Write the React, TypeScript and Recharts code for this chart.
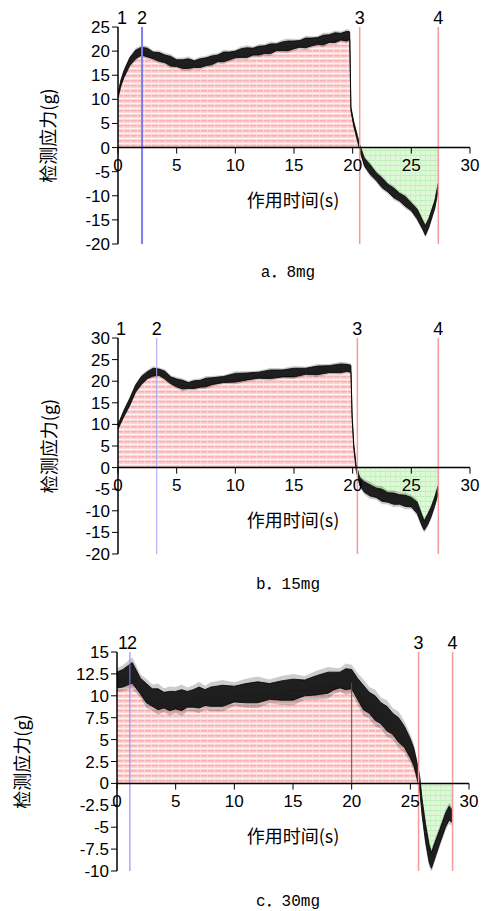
import { Area, ComposedChart, ReferenceLine, XAxis, YAxis } from "recharts";

const FONT = '"Liberation Sans", Arial, sans-serif';
const CJK = '"Noto Sans CJK SC", sans-serif';
const CAPTION_FONT = '"Liberation Mono", "Noto Sans CJK SC", monospace';

const xTicks = [0, 5, 10, 15, 20, 25, 30];
const yTitle = "检测应力(g)";
const xTitle = "作用时间(s)";

// a. 8mg
const aTime = [
  0, 0.25, 0.5, 1, 1.5, 2, 2.5, 3, 3.5, 4, 4.5, 5, 5.5, 6, 6.5, 7, 7.5, 8, 8.5, 9,
  9.5, 10, 10.5, 11, 11.5, 12, 12.5, 13, 13.5, 14, 14.5, 15, 15.5, 16, 16.5, 17, 17.5, 18, 18.5, 19,
  19.5, 19.75, 19.85, 20.1, 20.4, 20.6, 21, 21.5, 22, 22.5, 23, 23.5, 24, 24.5, 25, 25.5, 26, 26.2, 26.5, 27,
  27.3,
];
const aForce = [
  10.8, 13.4, 15.2, 17.8, 19.3, 20.0, 19.7, 19.1, 18.8, 18.4, 17.9, 17.5, 17.3, 17.4, 17.3, 17.5, 17.8, 18.1, 18.5, 18.8,
  19.0, 19.3, 19.6, 19.7, 19.9, 20.1, 20.3, 20.5, 20.8, 21.0, 21.1, 21.3, 21.5, 21.7, 21.9, 22.1, 22.3, 22.6, 22.8, 23.0,
  23.1, 23.2, 8.0, 4.8, 2.0, 0, -3.0, -4.6, -6.0, -7.3, -8.4, -9.4, -10.3, -11.2, -12.3, -13.8, -16.2, -17.2, -15.6, -11.8,
  -8.0,
];
const aNoise = [
  0.5, 0.6, 0.7, 0.8, 0.9, 0.8, 0.9, 0.7, 0.9, 0.8, 1.0, 0.7, 0.9, 1.0, 0.7, 0.9, 0.8, 0.9, 0.7, 1.0,
  0.8, 0.7, 0.9, 1.0, 0.7, 0.9, 0.8, 1.0, 0.7, 0.9, 1.0, 0.8, 0.7, 1.0, 0.8, 0.7, 1.0, 0.8, 1.0, 0.7,
  1.0, 0.8, 0.4, 0.5, 0.5, 0.6, 0.8, 1.0, 0.8, 1.0, 0.8, 1.0, 0.8, 1.0, 0.8, 1.0, 0.9, 1.0, 0.9, 0.8,
  0.7,
];
const aYTicks = [25, 20, 15, 10, 5, 0, -5, -10, -15, -20];
const aMarks = [0, 2.05, 20.6, 27.3];

// b. 15mg
const bTime = [
  0, 0.25, 0.5, 1, 1.5, 2, 2.5, 3, 3.5, 4, 4.5, 5, 5.5, 6, 6.5, 7, 7.5, 8, 9, 10,
  11, 12, 13, 14, 15, 16, 17, 18, 19, 19.5, 19.85, 19.95, 20.1, 20.3, 20.6, 21, 21.5, 22, 22.5, 23,
  23.5, 24, 24.5, 25, 25.5, 25.9, 26.1, 26.4, 26.7, 27, 27.3,
];
const bForce = [
  9.4, 11.0, 12.5, 15.2, 18.3, 20.2, 21.4, 22.1, 22.1, 21.4, 20.2, 19.6, 19.2, 19.0, 19.2, 19.4, 19.7, 20.0, 20.4, 20.8,
  21.1, 21.4, 21.6, 21.8, 22.0, 22.3, 22.5, 22.8, 23.0, 23.1, 22.9, 12.0, 4.8, 0, -3.2, -4.5, -5.3, -5.8, -6.4, -6.9,
  -7.2, -7.4, -7.7, -8.0, -9.3, -12.2, -13.4, -12.0, -10.2, -7.8, -5.0,
];
const bNoise = [
  0.5, 0.6, 0.7, 0.8, 0.8, 0.9, 0.8, 0.9, 0.7, 0.9, 0.8, 0.9, 1.0, 0.7, 0.9, 0.8, 1.0, 0.8, 0.7, 1.0,
  0.8, 0.7, 1.0, 0.8, 1.0, 0.7, 1.0, 0.8, 1.0, 0.8, 0.8, 0.4, 0.5, 0.6, 0.9, 1.2, 1.3, 1.1, 1.4, 1.1,
  1.3, 1.1, 1.3, 1.1, 1.3, 1.2, 1.1, 1.2, 1.1, 1.0, 0.9,
];
const bYTicks = [30, 25, 20, 15, 10, 5, 0, -5, -10, -15, -20];
const bMarks = [0, 3.3, 20.4, 27.3];

// c. 30mg
const cTime = [
  0, 0.5, 1, 1.3, 1.5, 2, 2.5, 3, 3.5, 4, 4.5, 5, 5.5, 6, 6.5, 7, 7.5, 8, 9, 10,
  11, 12, 13, 14, 15, 16, 17, 18, 18.5, 19, 19.5, 20, 20.5, 21, 21.5, 22, 22.5, 23, 23.5, 24,
  24.5, 25, 25.3, 25.5, 25.8, 26, 26.3, 26.6, 26.8, 27, 27.5, 28, 28.3, 28.6,
];
const cForce = [
  11.8, 12.0, 12.4, 12.6, 12.2, 11.1, 10.3, 9.8, 9.6, 9.5, 9.4, 9.5, 9.5, 9.6, 9.7, 9.8, 9.8, 9.9, 10.0, 10.2,
  10.3, 10.4, 10.5, 10.6, 10.7, 10.9, 11.2, 11.5, 11.7, 11.8, 11.9, 11.9, 10.8, 9.8, 9.2, 8.6, 8.0, 7.4, 6.8, 6.1,
  5.3, 4.0, 3.0, 1.9, 0, -2.7, -5.7, -8.0, -8.8, -8.0, -6.1, -4.2, -3.4, -3.8,
];
const cNoise = [
  0.9, 1.0, 1.1, 1.2, 1.1, 0.9, 1.1, 1.0, 1.2, 0.9, 1.1, 1.0, 1.2, 0.9, 1.0, 1.2, 0.9, 1.1, 1.2, 0.9,
  1.1, 1.2, 0.9, 1.1, 1.2, 0.9, 1.1, 1.2, 1.0, 0.9, 1.2, 1.1, 1.2, 1.4, 1.2, 1.4, 1.2, 1.4, 1.2, 1.4,
  1.2, 1.1, 1.0, 0.9, 0.8, 0.9, 1.0, 1.0, 0.9, 0.9, 0.8, 0.8, 0.8, 0.7,
];
const cYTicks = [15, 12.5, 10, 7.5, 5, 2.5, 0, -2.5, -5, -7.5, -10];
const cMarks = [0, 1.1, 25.7, 28.6];

const markNames = ["1", "2", "3", "4"];

type PanelCfg = {
  id: string;
  time: number[];
  force: number[];
  noise: number[];
  yTicks: number[];
  marks: number[];
  caption: string;
  top: number;
  axisWidth: number;
  margin: { top: number; right: number; bottom: number; left: number };
  tickLen: number;
  yTitleX: number;
  xTitleY: number;
  captionY: number;
  markDx: number[];
  blue: string;
  blueWidth: number;
  edge?: { x: number; y: number };
};

const panels: PanelCfg[] = [
  {
    id: "a",
    time: aTime,
    force: aForce,
    noise: aNoise,
    yTicks: aYTicks,
    marks: aMarks,
    caption: "a．8mg",
    top: 0,
    axisWidth: 118,
    margin: { top: 27, right: 12, bottom: 18, left: 0 },
    tickLen: 1.25,
    yTitleX: 49,
    xTitleY: 199,
    captionY: 270,
    markDx: [4, 0, 0, 0],
    blue: "#7c7cf0",
    blueWidth: 2,
  },
  {
    id: "b",
    time: bTime,
    force: bForce,
    noise: bNoise,
    yTicks: bYTicks,
    marks: bMarks,
    caption: "b．15mg",
    top: 311,
    axisWidth: 118,
    margin: { top: 27, right: 12, bottom: 19, left: 0 },
    tickLen: 1.4,
    yTitleX: 50,
    xTitleY: 208,
    captionY: 271,
    markDx: [3, 0, 0, 0],
    blue: "#a4a4f4",
    blueWidth: 1,
  },
  {
    id: "c",
    time: cTime,
    force: cForce,
    noise: cNoise,
    yTicks: cYTicks,
    marks: cMarks,
    caption: "c．30mg",
    top: 625,
    axisWidth: 117,
    margin: { top: 27, right: 13, bottom: 16, left: 0 },
    tickLen: 0.7,
    yTitleX: 23,
    xTitleY: 210,
    captionY: 274,
    markDx: [6, 2, 0, 0],
    blue: "#8080f6",
    blueWidth: 1,
    edge: { x: 20, y: 11.5 },
  },
];

function Panel({ p }: { p: PanelCfg }) {
  const rows = p.time.map((t, i) => {
    const v = p.force[i];
    const n = p.noise[i];
    return {
      t,
      pos: Math.max(v, 0),
      neg: Math.min(v, 0),
      band: [v - n, v + n],
      halo: [v - n * 1.5, v + n * 1.5],
    };
  });
  const yDomain = [p.yTicks[p.yTicks.length - 1], p.yTicks[0]];

  return (
    <div style={{ position: "absolute", left: 0, top: p.top, width: 482, height: 290 }}>
      <ComposedChart width={482} height={262} data={rows} margin={p.margin}>
        <defs>
          <pattern id={`pink-${p.id}`} width="7" height="5" patternUnits="userSpaceOnUse">
            <rect width="7" height="5" fill="#fcd6d6" />
            <rect y="0" width="7" height="1.5" fill="#f8b0b0" />
            <rect y="3" width="7" height="1" fill="#fff4f4" />
            <rect x="4" width="1" height="5" fill="#fde8e8" opacity="0.6" />
          </pattern>
          <pattern id={`green-${p.id}`} width="5" height="5" patternUnits="userSpaceOnUse">
            <rect width="5" height="5" fill="#dff9d8" />
            <rect y="0" width="5" height="1" fill="#bdeeb5" />
            <rect x="0" width="1" height="5" fill="#cbf2c4" />
          </pattern>
        </defs>
        <XAxis type="number" dataKey="t" domain={[0, 30]} hide allowDataOverflow />
        <YAxis
          type="number"
          domain={yDomain}
          ticks={p.yTicks}
          interval={0}
          width={p.axisWidth}
          allowDataOverflow
          tickSize={6}
          tickMargin={2}
          tick={{ fill: "#000", fontSize: 17, fontFamily: FONT }}
          tickLine={{ stroke: "#000" }}
          axisLine={{ stroke: "#000", strokeWidth: 1.5 }}
          label={{
            value: yTitle,
            angle: -90,
            position: "insideLeft",
            offset: p.yTitleX,
            style: { textAnchor: "middle", fontSize: 18, fontFamily: CJK, fill: "#000" },
          }}
        />
        <Area
          type="linear"
          dataKey="pos"
          baseValue={0}
          stroke="none"
          fill={`url(#pink-${p.id})`}
          fillOpacity={1}
          isAnimationActive={false}
        />
        <Area
          type="linear"
          dataKey="neg"
          baseValue={0}
          stroke="none"
          fill={`url(#green-${p.id})`}
          fillOpacity={1}
          isAnimationActive={false}
        />
        {p.edge && (
          <ReferenceLine
            segment={[
              { x: p.edge.x, y: 0 },
              { x: p.edge.x, y: p.edge.y },
            ]}
            stroke="#555"
            strokeWidth={1}
          />
        )}
        {p.marks.map((m, i) => (
          <ReferenceLine
            key={`m${i}`}
            x={m}
            stroke={i === 0 ? "none" : i === 1 ? p.blue : "#f59a9a"}
            strokeWidth={i === 1 ? p.blueWidth : 1.5}
            label={(lp: any) => (
              <text
                x={lp.viewBox.x + p.markDx[i]}
                y={lp.viewBox.y - 3}
                textAnchor="middle"
                fontSize={18}
                fontFamily={FONT}
                fill="#000"
              >
                {markNames[i]}
              </text>
            )}
          />
        ))}
        <ReferenceLine y={0} stroke="#000" strokeWidth={1.5} />
        {xTicks.map((t) => (
          <ReferenceLine
            key={`t${t}`}
            segment={[
              { x: t, y: 0 },
              { x: t, y: -p.tickLen },
            ]}
            stroke="#000"
            strokeWidth={1}
            ifOverflow="visible"
            label={{
              value: String(t),
              position: "bottom",
              offset: 5,
              fill: "#000",
              fontSize: 17,
              fontFamily: FONT,
            }}
          />
        ))}
        <Area
          type="linear"
          dataKey="halo"
          stroke="none"
          fill="#000"
          fillOpacity={0.2}
          isAnimationActive={false}
        />
        <Area
          type="linear"
          dataKey="band"
          stroke="#000"
          strokeWidth={0.8}
          fill="#151515"
          fillOpacity={0.95}
          isAnimationActive={false}
        />
      </ComposedChart>
      <div
        style={{
          position: "absolute",
          left: 293,
          top: p.xTitleY,
          transform: "translate(-50%, -50%)",
          fontFamily: CJK,
          fontSize: 18,
          whiteSpace: "nowrap",
          color: "#000",
        }}
      >
        {xTitle}
      </div>
      <div
        style={{
          position: "absolute",
          left: 288,
          top: p.captionY,
          transform: "translate(-50%, -50%)",
          fontFamily: CAPTION_FONT,
          fontSize: 16,
          whiteSpace: "nowrap",
          color: "#000",
        }}
      >
        {p.caption}
      </div>
    </div>
  );
}

export default function App() {
  return (
    <div
      style={{
        position: "absolute",
        left: 0,
        top: 0,
        width: 482,
        height: 911,
        background: "#fff",
        overflow: "hidden",
      }}
    >
      {panels.map((p) => (
        <Panel key={p.id} p={p} />
      ))}
    </div>
  );
}
